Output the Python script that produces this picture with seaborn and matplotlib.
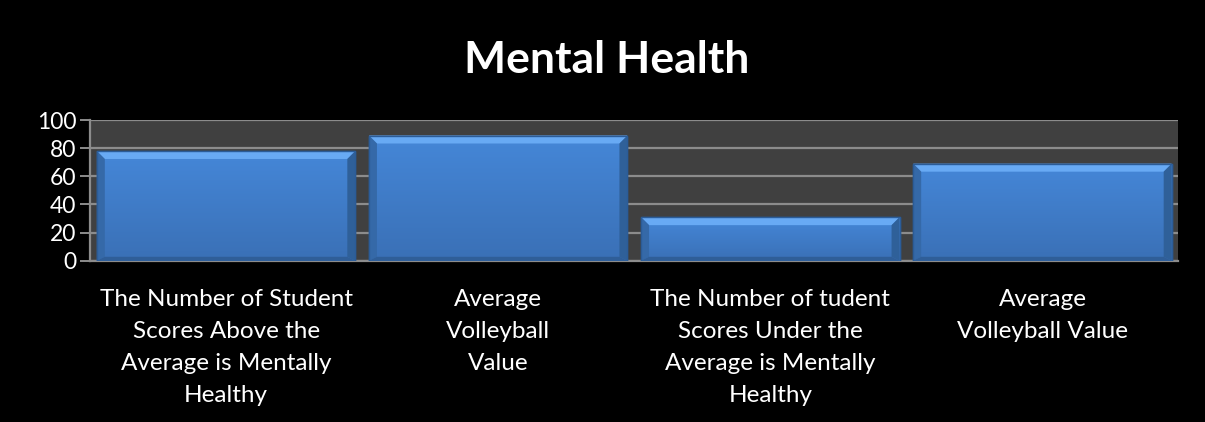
import numpy as np
import pandas as pd
import matplotlib
matplotlib.use("Agg")
import matplotlib.pyplot as plt
from matplotlib.patches import Polygon
import seaborn as sns

categories = [
    "The Number of Student\nScores Above the\nAverage is Mentally\nHealthy",
    "Average\nVolleyball\nValue",
    "The Number of tudent\nScores Under the\nAverage is Mentally\nHealthy",
    "Average\nVolleyball Value",
]
values = [78, 89, 31, 69]
y_ticks = [0, 20, 40, 60, 80, 100]
title = "Mental Health"

sns.set_theme(style="dark")
plt.rcParams["font.family"] = ["Lato", "DejaVu Sans"]

df = pd.DataFrame({"cat": categories, "val": values})

fig = plt.figure(figsize=(12.05, 4.22), dpi=100, facecolor="black")
ax = fig.add_axes([0.0747, 0.382, 0.9033, 0.3336])
ax.set_facecolor("#404040")

sns.barplot(data=df, x="cat", y="val", color="#4382D2", width=0.95,
            edgecolor="#2B5C98", linewidth=1.0, saturation=1, ax=ax, zorder=3)

ax.set_ylim(0, 100)
ax.set_xlim(-0.5, len(categories) - 0.5)
ax.set_yticks(y_ticks)
ax.yaxis.grid(True, color="#8C8C8C", linewidth=1.6, zorder=0)
ax.xaxis.grid(False)
ax.set_axisbelow(True)
ax.set_xlabel("")
ax.set_ylabel("")

for s in ["top", "right"]:
    ax.spines[s].set_visible(False)
for s in ["left", "bottom"]:
    ax.spines[s].set_visible(True)
    ax.spines[s].set_color("#8C8C8C")
    ax.spines[s].set_linewidth(1.6)

ax.tick_params(axis="y", colors="white", labelsize=16.5, length=7, width=1.4,
               direction="out", left=True, pad=3)
ax.tick_params(axis="y", color="#8C8C8C")
ax.set_xticks(range(len(categories)))
ax.set_xticklabels(categories, color="white", fontsize=17.5, linespacing=1.66)
ax.tick_params(axis="x", length=0, pad=20)
# category boundary ticks
ax.set_xticks([i - 0.5 for i in range(len(categories) + 1)], minor=True)
ax.tick_params(axis="x", which="minor", length=7, width=1.4, color="#8C8C8C",
               direction="out")

# bevel / gradient on bars
fig.canvas.draw()
grad = np.linspace(0, 1, 256).reshape(-1, 1)
cmap = matplotlib.colors.LinearSegmentedColormap.from_list(
    "bar", ["#3A70B6", "#4587D8"])
inv = ax.transData.inverted()
for p in ax.patches:
    x0, y0 = p.get_x(), p.get_y()
    w, h = p.get_width(), p.get_height()
    im = ax.imshow(grad, extent=(x0, x0 + w, y0, y0 + h), origin="lower",
                   cmap=cmap, aspect="auto", zorder=3.5)
    im.set_clip_path(p)
    (px0, py0) = ax.transData.transform((x0, y0))
    dx = inv.transform((px0 + 8, py0))[0] - x0
    dy = inv.transform((px0, py0 + 8))[1] - y0
    X0, X1, Y0, Y1 = x0, x0 + w, y0, y0 + h
    top = [(X0, Y1), (X1, Y1), (X1 - dx, Y1 - dy), (X0 + dx, Y1 - dy)]
    left = [(X0, Y0), (X0, Y1), (X0 + dx, Y1 - dy), (X0 + dx, Y0 + dy * 0.5)]
    right = [(X1, Y0), (X1, Y1), (X1 - dx, Y1 - dy), (X1 - dx, Y0 + dy * 0.5)]
    bottom = [(X0, Y0), (X1, Y0), (X1 - dx, Y0 + dy * 0.5), (X0 + dx, Y0 + dy * 0.5)]
    ax.add_patch(Polygon(top, closed=True, facecolor="#68AAF4", edgecolor="none", zorder=4))
    ax.add_patch(Polygon(left, closed=True, facecolor="#3569A8", edgecolor="none", zorder=4))
    ax.add_patch(Polygon(right, closed=True, facecolor="#2F6099", edgecolor="none", zorder=4))
    ax.add_patch(Polygon(bottom, closed=True, facecolor="#2F5E98", edgecolor="none", zorder=4))
    ax.add_patch(plt.Rectangle((x0, y0), w, h, fill=False, edgecolor="#2B5C98",
                               linewidth=1.0, zorder=4.5))

fig.text(0.5035, 0.857, title, color="white", fontsize=32, fontweight="bold",
         ha="center", va="center")

fig.savefig("out.png", dpi=100, facecolor="black")
